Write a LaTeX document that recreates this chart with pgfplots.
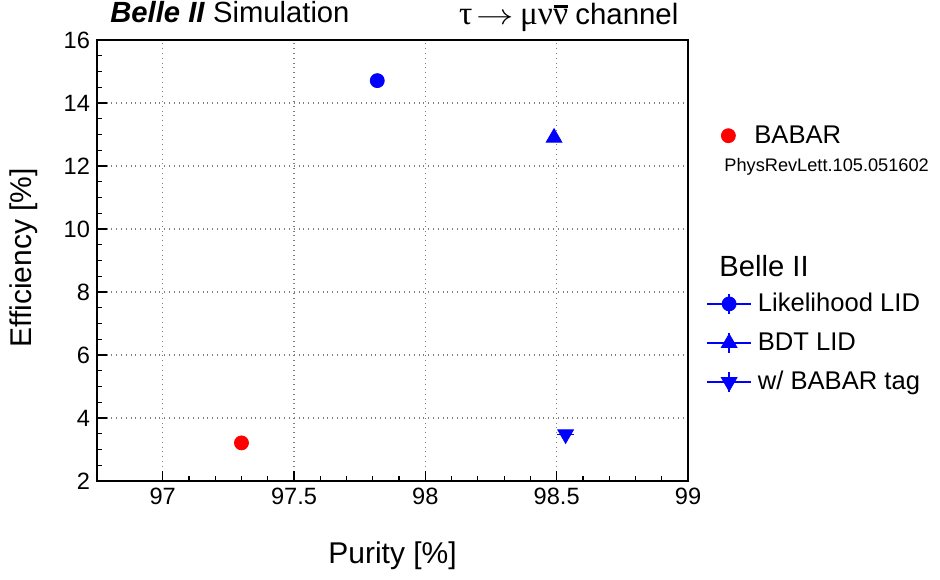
\documentclass[border=0pt]{standalone}
\usepackage{fontspec}
\setmainfont{Liberation Sans}
\newfontfamily\greekfont[Scale=1.13]{Liberation Serif}
\usepackage{graphicx}
\usepackage{pgfplots}
\pgfplotsset{compat=1.18}
\newcommand{\nubar}{\hbox{\rlap{\kern0.04em\rule[0.5em]{0.42em}{0.065em}}ν}}

\begin{document}
\begin{tikzpicture}
\useasboundingbox (-48.5pt,-49pt) rectangle (421.5pt,240.5pt);
\begin{axis}[
  at={(0,0)}, anchor=south west,
  scale only axis, width=295.5pt, height=220.5pt,
  xmin=96.75, xmax=99, ymin=2, ymax=16,
  clip=false,
  xtick={97,97.5,98,98.5,99}, ytick={2,4,...,16},
  minor x tick num=4, minor y tick num=3,
  xtick pos=bottom, ytick pos=left, tick align=inside,
  major tick length=5pt, minor tick length=2.5pt,
  grid=major, major grid style={gray, dotted, line width=0.6pt},
  axis line style={line width=0.9pt},
  tick style={black, line width=0.6pt},
  /pgf/number format/assume math mode=true,
  ticklabel style={font=\fontsize{11.8}{14}\selectfont},
  xticklabel style={/pgf/number format/fixed},
  xlabel={Purity [\%]}, ylabel={Efficiency [\%]},
  label style={font=\fontsize{15}{18}\selectfont},
  xlabel style={at={(axis description cs:0.5,-0.17)}, anchor=center},
  ylabel style={at={(axis description cs:-0.124,0.506)}, anchor=center},
  legend cell align=left,
  legend style={draw=none, fill=none, inner xsep=0pt, inner ysep=0pt,
    at={(axis description cs:1.0305,0.436)}, anchor=north west,
    font=\fontsize{12.8}{15}\selectfont, row sep=5pt, column sep=1pt},
  legend image code/.code={
    \draw[blue, line width=0.7pt] (0pt,0pt) -- (22pt,0pt);
    \draw[blue, line width=0.7pt] (11pt,-5pt) -- (11pt,5pt);
    \draw[#1] plot coordinates {(11pt,0pt)};
  },
]
\addplot[only marks, blue, mark=*, mark size=3.5pt] coordinates {(97.817,14.71)};
\addlegendentry{Likelihood LID}
\addplot[only marks, blue, mark=triangle*, mark size=4.5pt] coordinates {(98.49,12.9)};
\addlegendentry{BDT LID}
\addplot[only marks, blue, mark=triangle*, mark size=4.5pt, mark options={rotate=180}, forget plot,
  error bars/.cd, x dir=both, x explicit, error mark=none, error bar style={line width=0.7pt}]
  coordinates {(98.534,3.48) +- (0.032,0)};
\addlegendimage{only marks, blue, mark=triangle*, mark size=4.5pt, mark options={rotate=180}}
\addlegendentry{w/ BABAR tag}

\node[anchor=base west, inner sep=0pt, font=\fontsize{14.6}{17}\selectfont]
  at (axis description cs:0.022,1.0408) {\textbf{\textit{Belle II}} Simulation};
\node[anchor=base west, inner sep=0pt, font=\fontsize{14.7}{17}\selectfont]
  at (axis description cs:0.612,1.036) {{\greekfont τ}\kern0.15em\scalebox{1.3}[1]{$\rightarrow$}\kern0.2em{\greekfont μν\nubar}\kern0.25em channel};
\node[anchor=west, inner sep=0pt, font=\fontsize{14.6}{17}\selectfont]
  at (axis description cs:1.0525,0.4875) {Belle II};
\node[anchor=west, inner sep=0pt, font=\fontsize{9.1}{11}\selectfont]
  at (axis description cs:1.0609,0.712) {PhysRevLett.105.051602};
\end{axis}

\begin{axis}[
  at={(0,0)}, anchor=south west,
  scale only axis, width=295.5pt, height=220.5pt,
  xmin=96.75, xmax=99, ymin=2, ymax=16,
  hide axis,
  legend style={draw=none, fill=none, inner xsep=0pt, inner ysep=0pt,
    at={(axis description cs:1.0558,0.783)}, anchor=west,
    font=\fontsize{12.8}{15}\selectfont, column sep=7.5pt},
  legend image code/.code={\draw[#1] plot coordinates {(0pt,0pt)};},
]
\addplot[only marks, red, mark=*, mark size=3.5pt] coordinates {(97.30,3.21)};
\addlegendentry{BABAR}
\end{axis}
\end{tikzpicture}
\end{document}
